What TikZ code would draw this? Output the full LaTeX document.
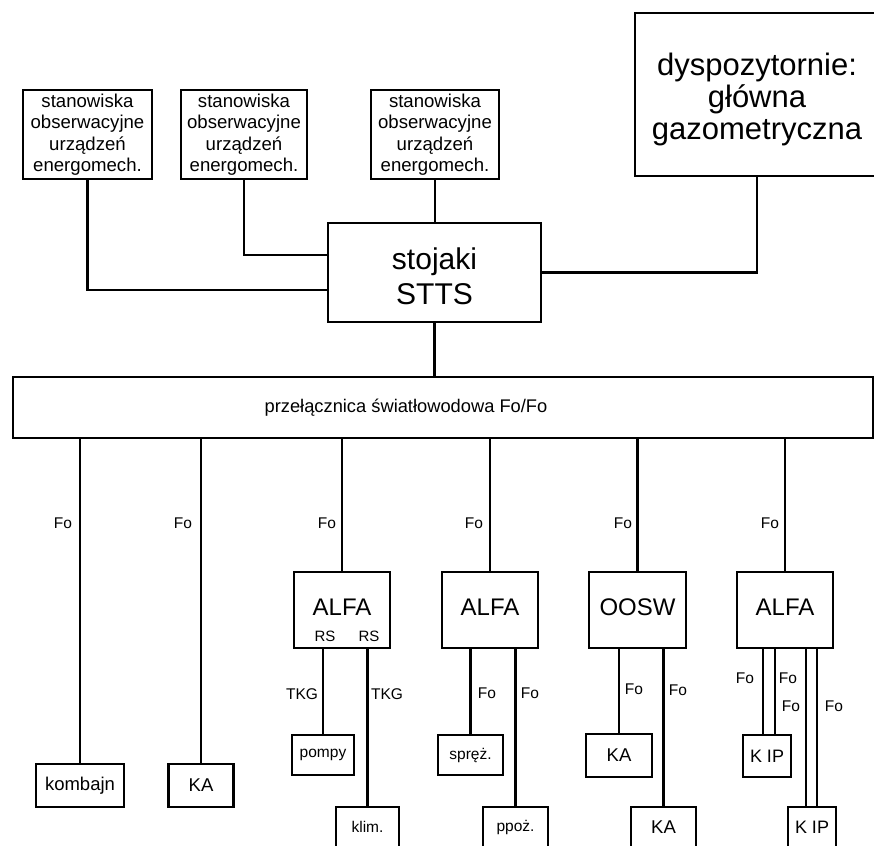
\documentclass[tikz,border=0pt]{standalone}
\usepackage{fontspec}
\setmainfont{Liberation Sans}
\usetikzlibrary{calc}
\newcommand\myfs[2]{\fontsize{#1}{#2}\selectfont}
\begin{document}
\begin{tikzpicture}[x=1pt,y=-1pt,
  box/.style={draw, line width=2.8pt, inner sep=0pt, outer sep=0pt, align=center, fill=white},
  wire/.style={line width=2.5pt},
  txt/.style={inner sep=0pt, align=center},
  lbl/.style={inner sep=0pt, font=\myfs{15.5}{18}}]
\useasboundingbox (0,0) rectangle (874,845);
\clip (0,0) rectangle (874,845);

% top row
\node[box, minimum width=129pt, minimum height=89pt, font=\myfs{18.6}{21.5}] (obs1) at (87.5,134.5) {stanowiska\\obserwacyjne\\urządzeń\\energomech.};
\node[box, minimum width=126pt, minimum height=89pt, font=\myfs{18.6}{21.5}] (obs2) at (244,134.5) {stanowiska\\obserwacyjne\\urządzeń\\energomech.};
\node[box, minimum width=128pt, minimum height=89pt, font=\myfs{18.6}{21.5}] (obs3) at (435,134.5) {stanowiska\\obserwacyjne\\urządzeń\\energomech.};
\node[box, minimum width=244pt, minimum height=163pt] (disp) at (757,94.5) {};
\node[txt, font=\myfs{31}{32}] (dispt) at (757,99) {dyspozytornie:\\główna\\gazometryczna};

% STTS
\node[box, minimum width=213pt, minimum height=99pt] (stts) at (434.5,272.5) {};
\node[txt, font=\myfs{30}{35}] (sttst) at (434.5,276) {stojaki\\STTS};

% bar
\node[box, minimum width=860pt, minimum height=61pt] (bar) at (443,407.5) {};
\node[txt, font=\myfs{18.3}{20}] (bartxt) at (406,408) {przełącznica światłowodowa Fo/Fo};

% top connectors
\draw[wire] (obs1.south) |- ($(stts.west)+(0,17.5)$);
\draw[wire] (obs2.south) |- ($(stts.west)+(0,-17.5)$);
\draw[wire] (obs3.south) -- (obs3.south |- stts.north);
\draw[wire] (disp.south) |- (stts.east);
\draw[wire] (stts.south) -- (stts.south |- bar.north);

% level 1 boxes
\node[box, minimum width=88pt, minimum height=43pt, font=\myfs{18.5}{20}] (komb) at (80,785.5) {kombajn};
\node[box, minimum width=65pt, minimum height=43pt, font=\myfs{18.5}{20}] (ka1) at (201,785.5) {KA};
\node[box, minimum width=96pt, minimum height=76pt] (alfa1) at (342,610) {};
\node[box, minimum width=96pt, minimum height=76pt] (alfa2) at (490,610) {};
\node[box, minimum width=97pt, minimum height=76pt] (oosw) at (637.5,610) {};
\node[box, minimum width=96pt, minimum height=76pt] (alfa4) at (785,610) {};
\node[txt, font=\myfs{24}{26}] (alfa1t) at (342,607) {ALFA};
\node[txt, font=\myfs{24}{26}] (alfa2t) at (490,607) {ALFA};
\node[txt, font=\myfs{24}{26}] (ooswt) at (637.5,607) {OOSW};
\node[txt, font=\myfs{24}{26}] (alfa4t) at (785,607) {ALFA};
\node[txt, font=\myfs{15}{16}] (rs1) at (325,636) {RS};
\node[txt, font=\myfs{15}{16}] (rs2) at (369,636) {RS};

% drops from bar
\draw[wire] (bar.south -| komb.north) -- (komb.north);
\draw[wire] (bar.south -| ka1.north) -- (ka1.north);
\draw[wire] (bar.south -| alfa1.north) -- (alfa1.north);
\draw[wire] (bar.south -| alfa2.north) -- (alfa2.north);
\draw[wire] (bar.south -| oosw.north) -- (oosw.north);
\draw[wire] (bar.south -| alfa4.north) -- (alfa4.north);
\node[lbl] (f1) at (63,523) {Fo};
\node[lbl] (f2) at (183,523) {Fo};
\node[lbl] (f3) at (327,523) {Fo};
\node[lbl] (f4) at (474,523) {Fo};
\node[lbl] (f5) at (623,523) {Fo};
\node[lbl] (f6) at (770,523) {Fo};

% level 2 boxes
\node[box, minimum width=62pt, minimum height=40pt, font=\myfs{15.5}{17}] (pompy) at (323,755) {\raisebox{-2pt}{pompy}};
\node[box, minimum width=63pt, minimum height=40pt, font=\myfs{15.5}{17}] (klim) at (367.5,827) {klim.};
\node[box, minimum width=65pt, minimum height=40pt, font=\myfs{15.5}{17}] (sprez) at (470.5,755) {\raisebox{-2pt}{spręż.}};
\node[box, minimum width=65pt, minimum height=40pt, font=\myfs{15.5}{17}] (ppoz) at (515.5,827) {ppoż.};
\node[box, minimum width=66pt, minimum height=43pt, font=\myfs{18.5}{20}] (ka3) at (619,755.5) {KA};
\node[box, minimum width=65pt, minimum height=40pt, font=\myfs{18.5}{20}] (ka4) at (663.5,827) {KA};
\node[box, minimum width=48pt, minimum height=42pt, font=\myfs{18}{19}] (kip1) at (767,756) {K IP};
\node[box, minimum width=48pt, minimum height=40pt, font=\myfs{18}{19}] (kip2) at (812,827) {K IP};

% level 2 connectors
\draw[wire] (alfa1.south -| pompy.north) -- (pompy.north);
\draw[wire] (alfa1.south -| klim.north) -- (klim.north);
\draw[wire] (alfa2.south -| sprez.north) -- (sprez.north);
\draw[wire] (alfa2.south -| ppoz.north) -- (ppoz.north);
\draw[wire] (oosw.south -| ka3.north) -- (ka3.north);
\draw[wire] (oosw.south -| ka4.north) -- (ka4.north);
\coordinate (k1a) at (763,0);
\coordinate (k1b) at (775,0);
\coordinate (k2a) at (806,0);
\coordinate (k2b) at (817,0);
\draw[wire] (alfa4.south -| k1a) -- (kip1.north -| k1a);
\draw[wire] (alfa4.south -| k1b) -- (kip1.north -| k1b);
\draw[wire] (alfa4.south -| k2a) -- (kip2.north -| k2a);
\draw[wire] (alfa4.south -| k2b) -- (kip2.north -| k2b);

\node[lbl] (t1) at (302,694) {TKG};
\node[lbl] (t2) at (387,694) {TKG};
\node[lbl] (f7) at (487,693) {Fo};
\node[lbl] (f8) at (530,693) {Fo};
\node[lbl] (f9) at (634,689) {Fo};
\node[lbl] (f10) at (678,690) {Fo};
\node[lbl] (f11) at (745,678) {Fo};
\node[lbl] (f12) at (788,678) {Fo};
\node[lbl] (f13) at (791,706) {Fo};
\node[lbl] (f14) at (834,706) {Fo};
\end{tikzpicture}
\end{document}
